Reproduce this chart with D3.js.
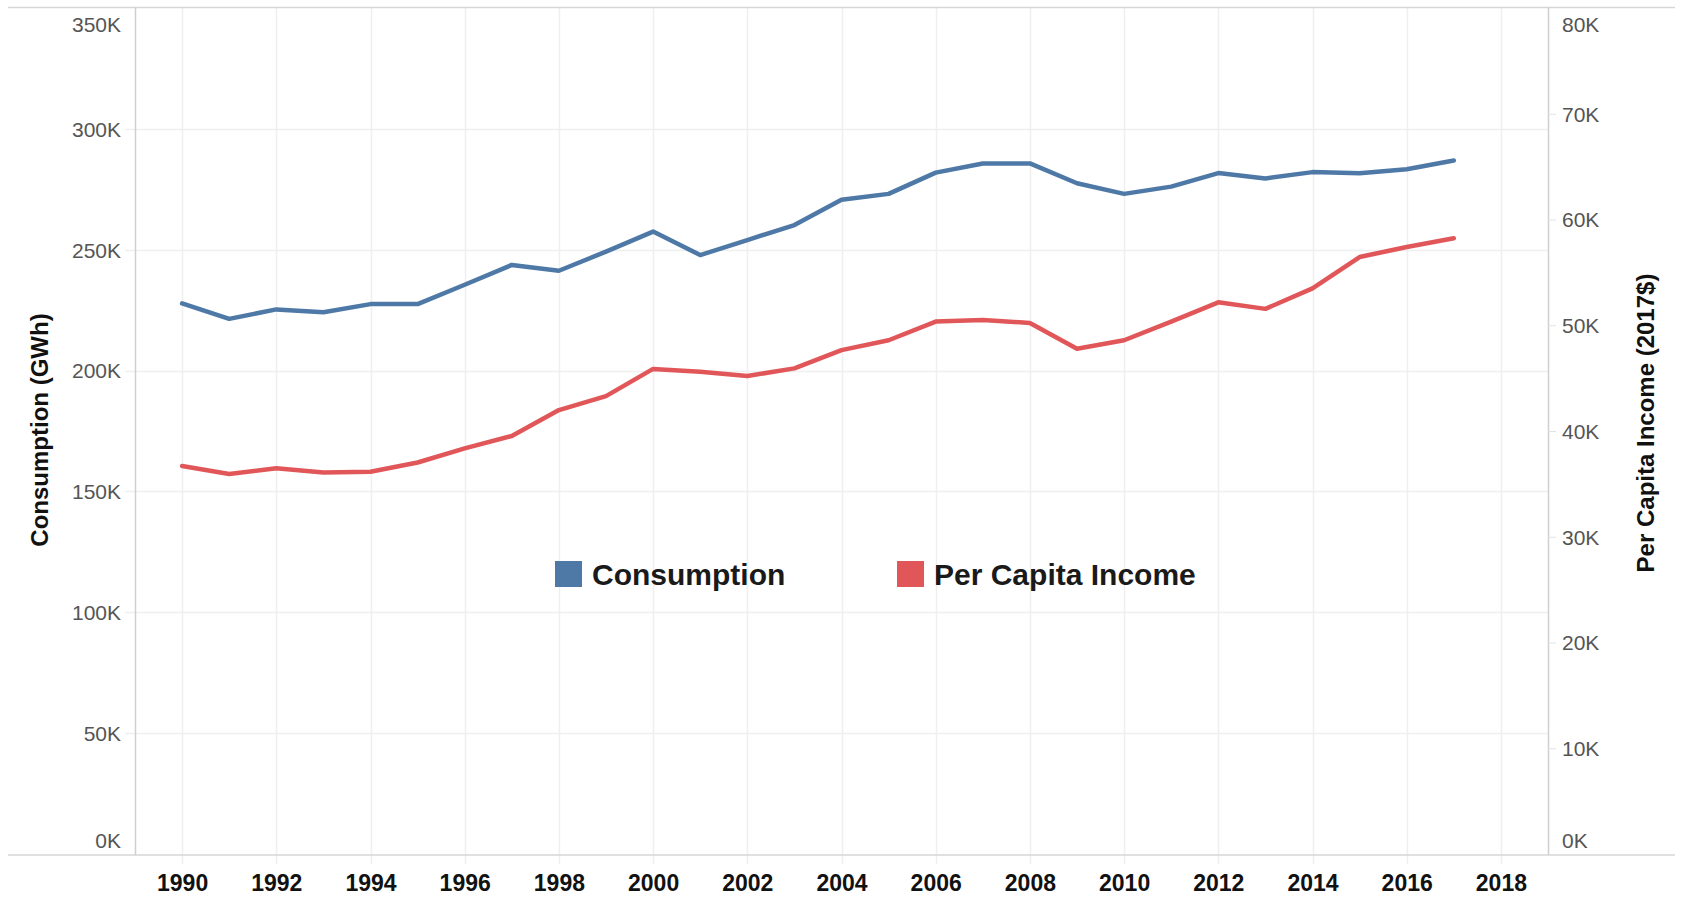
<!DOCTYPE html>
<html>
<head>
<meta charset="utf-8">
<script src="https://cdn.jsdelivr.net/npm/d3@7"></script>
<style>
  body { margin: 0; background: #fff; }
  svg { display: block; font-family: "Liberation Sans", Arial, sans-serif; }
</style>
</head>
<body>
<script>
// Data.
var years = [1990, 1991, 1992, 1993, 1994, 1995, 1996, 1997, 1998, 1999,
             2000, 2001, 2002, 2003, 2004, 2005, 2006, 2007, 2008, 2009,
             2010, 2011, 2012, 2013, 2014, 2015, 2016, 2017];

// Consumption (GWh)
var consumption = [227800, 221400, 225300, 224100, 227500, 227500, 235500, 243700, 241300, 249200,
                   257500, 247800, 254000, 260200, 270700, 273100, 281900, 285700, 285700, 277500,
                   273100, 276100, 281700, 279500, 282100, 281600, 283300, 286900];

// Per capita income (2017$)
var income = [36690, 35940, 36470, 36080, 36150, 37020, 38350, 39530, 41980, 43300,
              45870, 45600, 45200, 45920, 47650, 48580, 50350, 50500, 50220, 47770,
              48580, 50340, 52170, 51550, 53490, 56450, 57400, 58220];

var xTicks      = [1990, 1992, 1994, 1996, 1998, 2000, 2002, 2004, 2006, 2008, 2010, 2012, 2014, 2016, 2018];
var leftTicks   = [0, 50000, 100000, 150000, 200000, 250000, 300000, 350000];
var rightTicks  = [0, 10000, 20000, 30000, 40000, 50000, 60000, 70000, 80000];
var seriesNames = ["Consumption", "Per Capita Income"];
var colors      = ["#4e79a7", "#e15759"];

// Canvas and plot box.
var width      = 1681,
    height     = 898,
    plotLeft   = 135,
    plotRight  = 1548,
    plotTop    = 8,
    plotBottom = 854;

var svg = d3.select("body")
    .append("svg")
    .attr("width", width)
    .attr("height", height);

// Scales.
var x  = d3.scaleLinear().domain([1989, 2019]).range([plotLeft, plotRight]);
var yL = d3.scaleLinear().domain([0, 350000]).range([plotBottom, plotTop]);
var yR = d3.scaleLinear().domain([0, 80000]).range([plotBottom, plotTop]);

var fmtK = function(d) { return (d / 1000) + "K"; };

// Gridlines.
svg.append("g")
    .selectAll("line")
    .data(leftTicks.slice(1, -1))
  .enter()
    .append("line")
    .attr("x1", plotLeft - 10)
    .attr("x2", plotRight)
    .attr("y1", function(d) { return Math.round(yL(d)) + 0.5; })
    .attr("y2", function(d) { return Math.round(yL(d)) + 0.5; })
    .attr("stroke", "#efefef")
    .attr("stroke-width", 1.5);

svg.append("g")
    .selectAll("line")
    .data(xTicks)
  .enter()
    .append("line")
    .attr("x1", function(d) { return Math.round(x(d)) + 0.5; })
    .attr("x2", function(d) { return Math.round(x(d)) + 0.5; })
    .attr("y1", plotTop)
    .attr("y2", plotBottom + 10)
    .attr("stroke", "#efefef")
    .attr("stroke-width", 1.5);

// Frame lines.
svg.append("line")
    .attr("x1", 8).attr("x2", 1675)
    .attr("y1", 7.5).attr("y2", 7.5)
    .attr("stroke", "#d6d6d6").attr("stroke-width", 1.5);
svg.append("line")
    .attr("x1", 8).attr("x2", 1675)
    .attr("y1", plotBottom + 1).attr("y2", plotBottom + 1)
    .attr("stroke", "#d6d6d6").attr("stroke-width", 1.5);
svg.append("line")
    .attr("x1", plotLeft + 0.5).attr("x2", plotLeft + 0.5)
    .attr("y1", 7).attr("y2", plotBottom + 1)
    .attr("stroke", "#cfcfcf").attr("stroke-width", 1.5);
svg.append("line")
    .attr("x1", plotRight + 0.5).attr("x2", plotRight + 0.5)
    .attr("y1", 7).attr("y2", plotBottom + 1)
    .attr("stroke", "#cfcfcf").attr("stroke-width", 1.5);

// Left axis.
var gL = svg.append("g")
    .attr("transform", "translate(" + plotLeft + ",0)")
    .call(d3.axisLeft(yL).tickValues(leftTicks).tickFormat(fmtK).tickSize(0).tickPadding(14));
gL.select(".domain").remove();
gL.selectAll("text")
    .attr("font-family", "Liberation Sans, Arial, sans-serif")
    .attr("font-size", "21px")
    .attr("fill", "#555")
    .attr("dy", function(d) { return d === 350000 ? "1.1em" : (d === 0 ? "-0.3em" : "0.35em"); });

// Right axis.
var gR = svg.append("g")
    .attr("transform", "translate(" + plotRight + ",0)")
    .call(d3.axisRight(yR).tickValues(rightTicks).tickFormat(fmtK).tickSize(8).tickPadding(6));
gR.select(".domain").remove();
gR.selectAll("line").attr("stroke", "#e2e2e2");
gR.selectAll(".tick").filter(function(d) { return d === 0 || d === 80000; }).select("line").remove();
gR.selectAll("text")
    .attr("font-family", "Liberation Sans, Arial, sans-serif")
    .attr("font-size", "21px")
    .attr("fill", "#555")
    .attr("dy", function(d) { return d === 80000 ? "1.1em" : (d === 0 ? "-0.3em" : "0.35em"); });

// Bottom axis.
var gX = svg.append("g")
    .attr("transform", "translate(0," + plotBottom + ")")
    .call(d3.axisBottom(x).tickValues(xTicks).tickFormat(d3.format("d")).tickSize(0).tickPadding(21));
gX.select(".domain").remove();
gX.selectAll("text")
    .attr("font-family", "Liberation Sans, Arial, sans-serif")
    .attr("font-size", "23px")
    .attr("font-weight", "bold")
    .attr("fill", "#111");

// Axis titles.
svg.append("text")
    .text("Consumption (GWh)")
    .attr("transform", "translate(48,430) rotate(-90)")
    .attr("text-anchor", "middle")
    .attr("font-size", "24px")
    .attr("font-weight", "bold")
    .attr("fill", "#111");

svg.append("text")
    .text("Per Capita Income (2017$)")
    .attr("transform", "translate(1654,423) rotate(-90)")
    .attr("text-anchor", "middle")
    .attr("font-size", "24px")
    .attr("font-weight", "bold")
    .attr("fill", "#111");

// Lines.
var lineL = d3.line()
    .x(function(d, i) { return x(years[i]); })
    .y(function(d) { return yL(d); });
var lineR = d3.line()
    .x(function(d, i) { return x(years[i]); })
    .y(function(d) { return yR(d); });

svg.append("path")
    .datum(consumption)
    .attr("d", lineL)
    .attr("fill", "none")
    .attr("stroke", colors[0])
    .attr("stroke-width", 4.5)
    .attr("stroke-linejoin", "round")
    .attr("stroke-linecap", "round");

svg.append("path")
    .datum(income)
    .attr("d", lineR)
    .attr("fill", "none")
    .attr("stroke", colors[1])
    .attr("stroke-width", 4.5)
    .attr("stroke-linejoin", "round")
    .attr("stroke-linecap", "round");

// Legend.
var legendX = [555, 897];
var legend = svg.selectAll(".legend")
    .data(seriesNames)
  .enter()
    .append("g")
    .attr("class", "legend")
    .attr("transform", function(d, i) { return "translate(" + legendX[i] + ",561)"; });

legend.append("rect")
    .attr("width", 27)
    .attr("height", 26)
    .attr("fill", function(d, i) { return colors[i]; });

legend.append("text")
    .text(function(d) { return d; })
    .attr("x", 37)
    .attr("y", 13)
    .attr("dy", "0.36em")
    .attr("font-size", "30px")
    .attr("font-weight", "bold")
    .attr("fill", "#1a1a1a");
</script>
</body>
</html>
